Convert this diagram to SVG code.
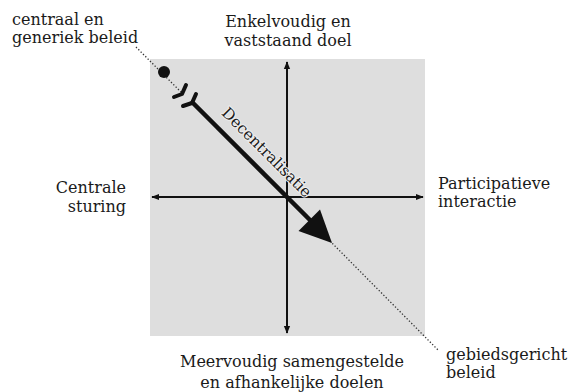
<svg xmlns="http://www.w3.org/2000/svg" width="570" height="392" viewBox="0 0 570 392">
<style>
.t{font-family:"DejaVu Serif","Liberation Serif",serif;font-size:16px;fill:#1a1a1a}
.ax{stroke:#111;stroke-width:2;fill:none}
.dot{stroke:#333;stroke-width:1.3;stroke-dasharray:1.3 2;fill:none}
.fl{fill:none;stroke:#111;stroke-width:4;stroke-linejoin:round;stroke-linecap:round}
</style>
<defs>
<marker id="ah" viewBox="0 0 10 10" refX="9" refY="5" markerWidth="4" markerHeight="4" orient="auto" markerUnits="strokeWidth">
<path d="M0,1 L10,5 L0,9 Z" fill="#111"/>
</marker>
</defs>
<rect x="150" y="59" width="275" height="277" fill="#dedede"/>
<g id="connectors">
<line class="ax" x1="287" y1="197" x2="287" y2="62" marker-end="url(#ah)"/>
<line class="ax" x1="287" y1="197" x2="287" y2="333" marker-end="url(#ah)"/>
<line class="ax" x1="287" y1="197" x2="152" y2="197" marker-end="url(#ah)"/>
<line class="ax" x1="287" y1="197" x2="423" y2="197" marker-end="url(#ah)"/>
<line class="dot" x1="136" y1="47" x2="182" y2="93"/>
<line class="dot" x1="330" y1="241" x2="439" y2="351"/>
<circle cx="164" cy="72" r="6" fill="#111"/>
<line x1="191" y1="101" x2="312" y2="222" stroke="#111" stroke-width="4.5"/>
<polygon points="332,243 320,209.5 298.5,231" fill="#111"/>
<polyline class="fl" points="186,85 182,94 174,97"/>
<polyline class="fl" points="196,94 192,103 183,106"/>
</g>
<g id="decentralisatie">
<text class="t" style="font-size:15.5px" text-anchor="middle" transform="translate(263,156) rotate(45)" stroke="#eee" stroke-width="2" paint-order="stroke">Decentralisatie</text>
</g>
<g id="centraal">
<text class="t" x="12" y="25">centraal en</text>
<text class="t" x="12" y="43">generiek beleid</text>
</g>
<g id="enkelvoudig">
<text class="t" x="288" y="27" text-anchor="middle">Enkelvoudig en</text>
<text class="t" x="288" y="46" text-anchor="middle">vaststaand doel</text>
</g>
<g id="centrale">
<text class="t" x="126" y="193" text-anchor="end">Centrale</text>
<text class="t" x="126" y="212" text-anchor="end">sturing</text>
</g>
<g id="participatieve">
<text class="t" x="438" y="189">Participatieve</text>
<text class="t" x="438" y="207">interactie</text>
</g>
<g id="meervoudig">
<text class="t" x="292" y="367" text-anchor="middle">Meervoudig samengestelde</text>
<text class="t" x="292" y="388" text-anchor="middle">en afhankelijke doelen</text>
</g>
<g id="gebiedsgericht">
<text class="t" x="446" y="360">gebiedsgericht</text>
<text class="t" x="446" y="378">beleid</text>
</g>
</svg>
